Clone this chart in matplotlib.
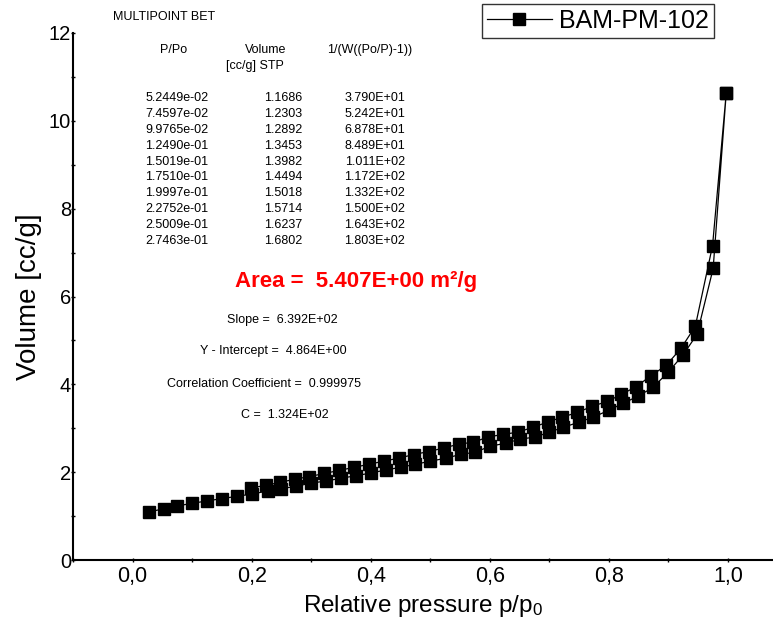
import numpy as np
import matplotlib
matplotlib.use("Agg")
import matplotlib.pyplot as plt

plt.rcParams["font.family"] = ["Liberation Sans", "DejaVu Sans"]
plt.rcParams["mathtext.default"] = "regular"

# adsorption branch (p/p0, volume cc/g)
ads_p = [0.027, 0.0524, 0.0746, 0.0998, 0.1249, 0.1502, 0.1751, 0.2000, 0.2275, 0.2501,
         0.2746, 0.300, 0.325, 0.350, 0.375, 0.400, 0.425, 0.450, 0.475, 0.500,
         0.527, 0.552, 0.575, 0.600, 0.627, 0.650, 0.676, 0.700, 0.723, 0.750,
         0.773, 0.800, 0.824, 0.849, 0.874, 0.899, 0.924, 0.948, 0.975, 0.997]
ads_v = [1.09, 1.1686, 1.2303, 1.2892, 1.3453, 1.3982, 1.4494, 1.5018, 1.5714, 1.6237,
         1.6802, 1.75, 1.80, 1.86, 1.92, 1.98, 2.05, 2.11, 2.18, 2.25,
         2.32, 2.41, 2.45, 2.59, 2.66, 2.75, 2.80, 2.91, 3.02, 3.14,
         3.25, 3.41, 3.57, 3.73, 3.93, 4.27, 4.66, 5.14, 6.64, 10.64]

# desorption branch
des_p = [0.997, 0.974, 0.945, 0.921, 0.896, 0.871, 0.846, 0.821, 0.797, 0.772,
         0.747, 0.721, 0.697, 0.672, 0.647, 0.622, 0.597, 0.572, 0.548, 0.523,
         0.497, 0.472, 0.447, 0.422, 0.397, 0.372, 0.347, 0.322, 0.297, 0.273,
         0.248, 0.224, 0.199]
des_v = [10.64, 7.16, 5.32, 4.82, 4.43, 4.20, 3.95, 3.77, 3.61, 3.50,
         3.36, 3.25, 3.14, 3.02, 2.91, 2.86, 2.80, 2.68, 2.64, 2.55,
         2.47, 2.40, 2.32, 2.25, 2.18, 2.11, 2.04, 1.97, 1.90, 1.84,
         1.77, 1.70, 1.64]

table_p = ["5.2449e-02", "7.4597e-02", "9.9765e-02", "1.2490e-01", "1.5019e-01",
           "1.7510e-01", "1.9997e-01", "2.2752e-01", "2.5009e-01", "2.7463e-01"]
table_v = ["1.1686", "1.2303", "1.2892", "1.3453", "1.3982",
           "1.4494", "1.5018", "1.5714", "1.6237", "1.6802"]
table_w = ["3.790E+01", "5.242E+01", "6.878E+01", "8.489E+01", "1.011E+02",
           "1.172E+02", "1.332E+02", "1.500E+02", "1.643E+02", "1.803E+02"]

fig = plt.figure(figsize=(7.73, 6.22), dpi=100)
ax = fig.add_axes([73 / 773, 62 / 622, 1 - 73 / 773, 527 / 622])

x = np.concatenate([ads_p, des_p])
y = np.concatenate([ads_v, des_v])
ax.plot(x, y, color="black", lw=0.9, marker="s", markersize=8.8,
        markerfacecolor="black", markeredgecolor="black", label="BAM-PM-102")

ax.set_xticks([0.0, 0.2, 0.4, 0.6, 0.8, 1.0])
ax.set_xticklabels(["0,0", "0,2", "0,4", "0,6", "0,8", "1,0"])
ax.set_xticks([-0.1, 0.1, 0.3, 0.5, 0.7, 0.9], minor=True)
ax.set_yticks([0, 2, 4, 6, 8, 10, 12])
ax.set_yticks([1, 3, 5, 7, 9, 11], minor=True)
ax.set_xlim(-0.1, 1.0755)
ax.set_ylim(0, 12)
for s in ["top", "right"]:
    ax.spines[s].set_visible(False)
for s in ["left", "bottom"]:
    ax.spines[s].set_linewidth(1.5)
ax.tick_params(which="both", direction="inout", length=3, width=1)
ax.tick_params(axis="y", labelsize=14.5, pad=0)
ax.tick_params(axis="x", labelsize=15.5, pad=3)

ax.set_xlabel("Relative pressure p/p$_0$", fontsize=17.5, labelpad=4)
ax.set_ylabel("Volume [cc/g]", fontsize=20, labelpad=5)

leg = ax.legend(loc="upper right", bbox_to_anchor=(714 / 773, 1 - 4 / 622),
                bbox_transform=fig.transFigure, fontsize=18, frameon=True,
                fancybox=False, handlelength=2.6, borderpad=0.2,
                handletextpad=0.3, borderaxespad=0, markerscale=0.95)
leg.get_frame().set_edgecolor("black")
leg.get_frame().set_linewidth(1.0)

def fx(px):
    return px / 773

def fy(py):
    return 1 - py / 622

fs = 9
fig.text(fx(113), fy(17), "MULTIPOINT BET", fontsize=fs, va="center", ha="left")
fig.text(fx(174), fy(50), "P/Po", fontsize=fs, va="center", ha="center")
fig.text(fx(266), fy(50), "Volume", fontsize=fs, va="center", ha="center")
fig.text(fx(255), fy(66), "[cc/g] STP", fontsize=fs, va="center", ha="center")
fig.text(fx(370), fy(50), "1/(W((Po/P)-1))", fontsize=fs, va="center", ha="center")
for i in range(len(table_p)):
    yy = fy(98 + i * 15.9)
    fig.text(fx(177), yy, table_p[i], fontsize=fs, va="center", ha="center")
    fig.text(fx(302), yy, table_v[i], fontsize=fs, va="center", ha="right")
    fig.text(fx(405), yy, table_w[i], fontsize=fs, va="center", ha="right")

fig.text(fx(356), fy(282), "Area =  5.407E+00 m\u00b2/g", fontsize=16,
         fontweight="bold", color="red", va="center", ha="center")
fig.text(fx(282), fy(320), "Slope =  6.392E+02", fontsize=fs, va="center", ha="center")
fig.text(fx(273), fy(351), "Y - Intercept =  4.864E+00", fontsize=fs, va="center", ha="center")
fig.text(fx(264), fy(384), "Correlation Coefficient =  0.999975", fontsize=fs, va="center", ha="center")
fig.text(fx(285), fy(415), "C =  1.324E+02", fontsize=fs, va="center", ha="center")

fig.savefig("out.png", dpi=100)
